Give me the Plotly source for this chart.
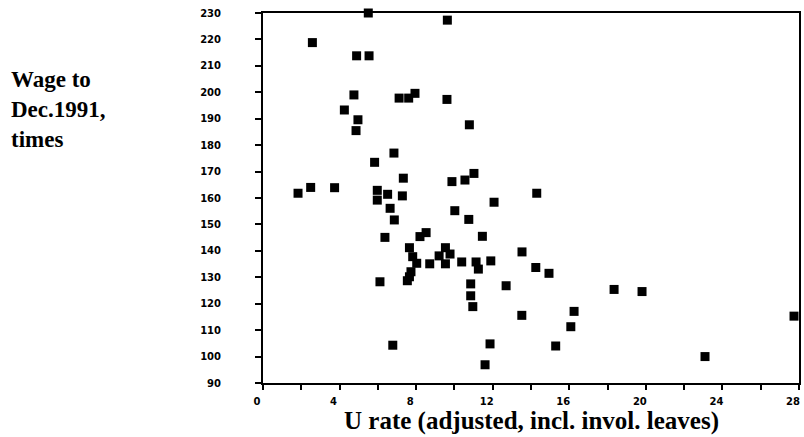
import plotly.graph_objects as go

u_rate = [5.50, 9.63, 2.58, 4.89, 5.54, 4.75, 7.11, 7.61, 7.94, 9.61,
          4.25, 4.96, 4.86, 10.78, 6.84, 5.83, 7.33, 9.87, 10.55, 11.02,
          1.83, 2.49, 3.74, 5.97, 6.51, 7.28, 5.97, 6.64, 6.86, 10.02,
          10.75, 12.07, 14.30, 6.37, 8.20, 8.52, 11.46, 7.65, 9.53, 7.82,
          9.20, 9.77, 8.03, 8.71, 9.53, 10.38, 11.13, 11.25, 11.90, 13.53,
          7.73, 7.65, 14.25, 14.94, 7.54, 6.11, 10.85, 12.70, 18.34, 19.80,
          10.85, 10.96, 13.52, 16.25, 16.08, 27.74, 6.78, 11.86, 15.29, 23.09,
          11.60]
wage = [230.0, 227.3, 218.8, 213.8, 213.8, 199.0, 197.8, 197.8, 199.6, 197.3,
        193.3, 189.6, 185.5, 187.7, 177.0, 173.5, 167.5, 166.2, 166.8, 169.3,
        161.8, 164.0, 163.9, 162.9, 161.4, 160.8, 159.2, 156.1, 151.7, 155.2,
        151.9, 158.4, 161.8, 145.1, 145.4, 146.9, 145.5, 141.2, 141.2, 137.8,
        138.1, 138.8, 135.3, 135.1, 135.1, 135.8, 135.8, 133.1, 136.2, 139.6,
        132.1, 130.2, 133.7, 131.5, 128.7, 128.3, 127.5, 126.8, 125.4, 124.6,
        123.0, 118.9, 115.6, 117.1, 111.3, 115.3, 104.3, 104.8, 104.0, 100.0,
        96.9]

x_tick_vals = [0, 4, 8, 12, 16, 20, 24, 28]
y_tick_vals = [90, 100, 110, 120, 130, 140, 150, 160, 170, 180, 190, 200, 210, 220, 230]
x_title = "U rate (adjusted, incl. invol. leaves)"
y_title = "Wage to<br>Dec.1991,<br>times"

serif_x = dict(family="Liberation Serif, Times New Roman, serif", size=25, color="black", weight="bold")
serif_y = dict(family="Liberation Serif, Times New Roman, serif", size=23, color="black", weight="bold")
tickfont = dict(family="DejaVu Sans, Arial, sans-serif", size=10, color="black", weight="bold")

# plot area in pixels: left 263, right 799, top 13, bottom 383
L, R, T, B = 263, 5, 13, 54
PW, PH = 804 - L - R, 437 - T - B

fig = go.Figure()
fig.add_trace(go.Scatter(
    x=u_rate, y=wage, mode="markers",
    marker=dict(symbol="square", size=9, color="black"),
    cliponaxis=False, showlegend=False,
))

fig.update_layout(
    width=804, height=437,
    margin=dict(l=L, r=R, t=T, b=B, autoexpand=False),
    paper_bgcolor="white", plot_bgcolor="white",
    xaxis=dict(
        range=[0, 28], tickvals=x_tick_vals, ticktext=[str(v) for v in x_tick_vals],
        ticks="outside", ticklen=5, tickwidth=2, tickcolor="black",
        minor=dict(dtick=2, tick0=0, ticks="outside", ticklen=5, tickwidth=2, tickcolor="black"),
        showline=True, linewidth=2, linecolor="black", mirror=True,
        showgrid=False, zeroline=False, tickfont=tickfont,
        ticklabelstandoff=3, ticklabelshift=-6, automargin=False,
    ),
    yaxis=dict(
        range=[90, 230], tickvals=y_tick_vals,
        ticks="outside", ticklen=6, tickwidth=2, tickcolor="black",
        showline=True, linewidth=2, linecolor="black", mirror=True,
        showgrid=False, zeroline=False, tickfont=tickfont,
        ticklabelstandoff=32, automargin=False,
    ),
)

# x-axis title (centered under plot)
fig.add_annotation(
    text=x_title, xref="paper", yref="paper",
    x=0.5, y=(383 - 421) / PH, xanchor="center", yanchor="middle",
    showarrow=False, font=serif_x, borderpad=0,
)
# horizontal multi-line y-axis title at left
fig.add_annotation(
    text=y_title, xref="paper", yref="paper",
    x=(9 - L) / PW, y=(383 - 109) / PH,
    xanchor="left", yanchor="middle", align="left",
    showarrow=False, font=serif_y,
)

fig.write_html("out.html", config={"displayModeBar": False},
               post_script="document.body.style.margin='0';")
